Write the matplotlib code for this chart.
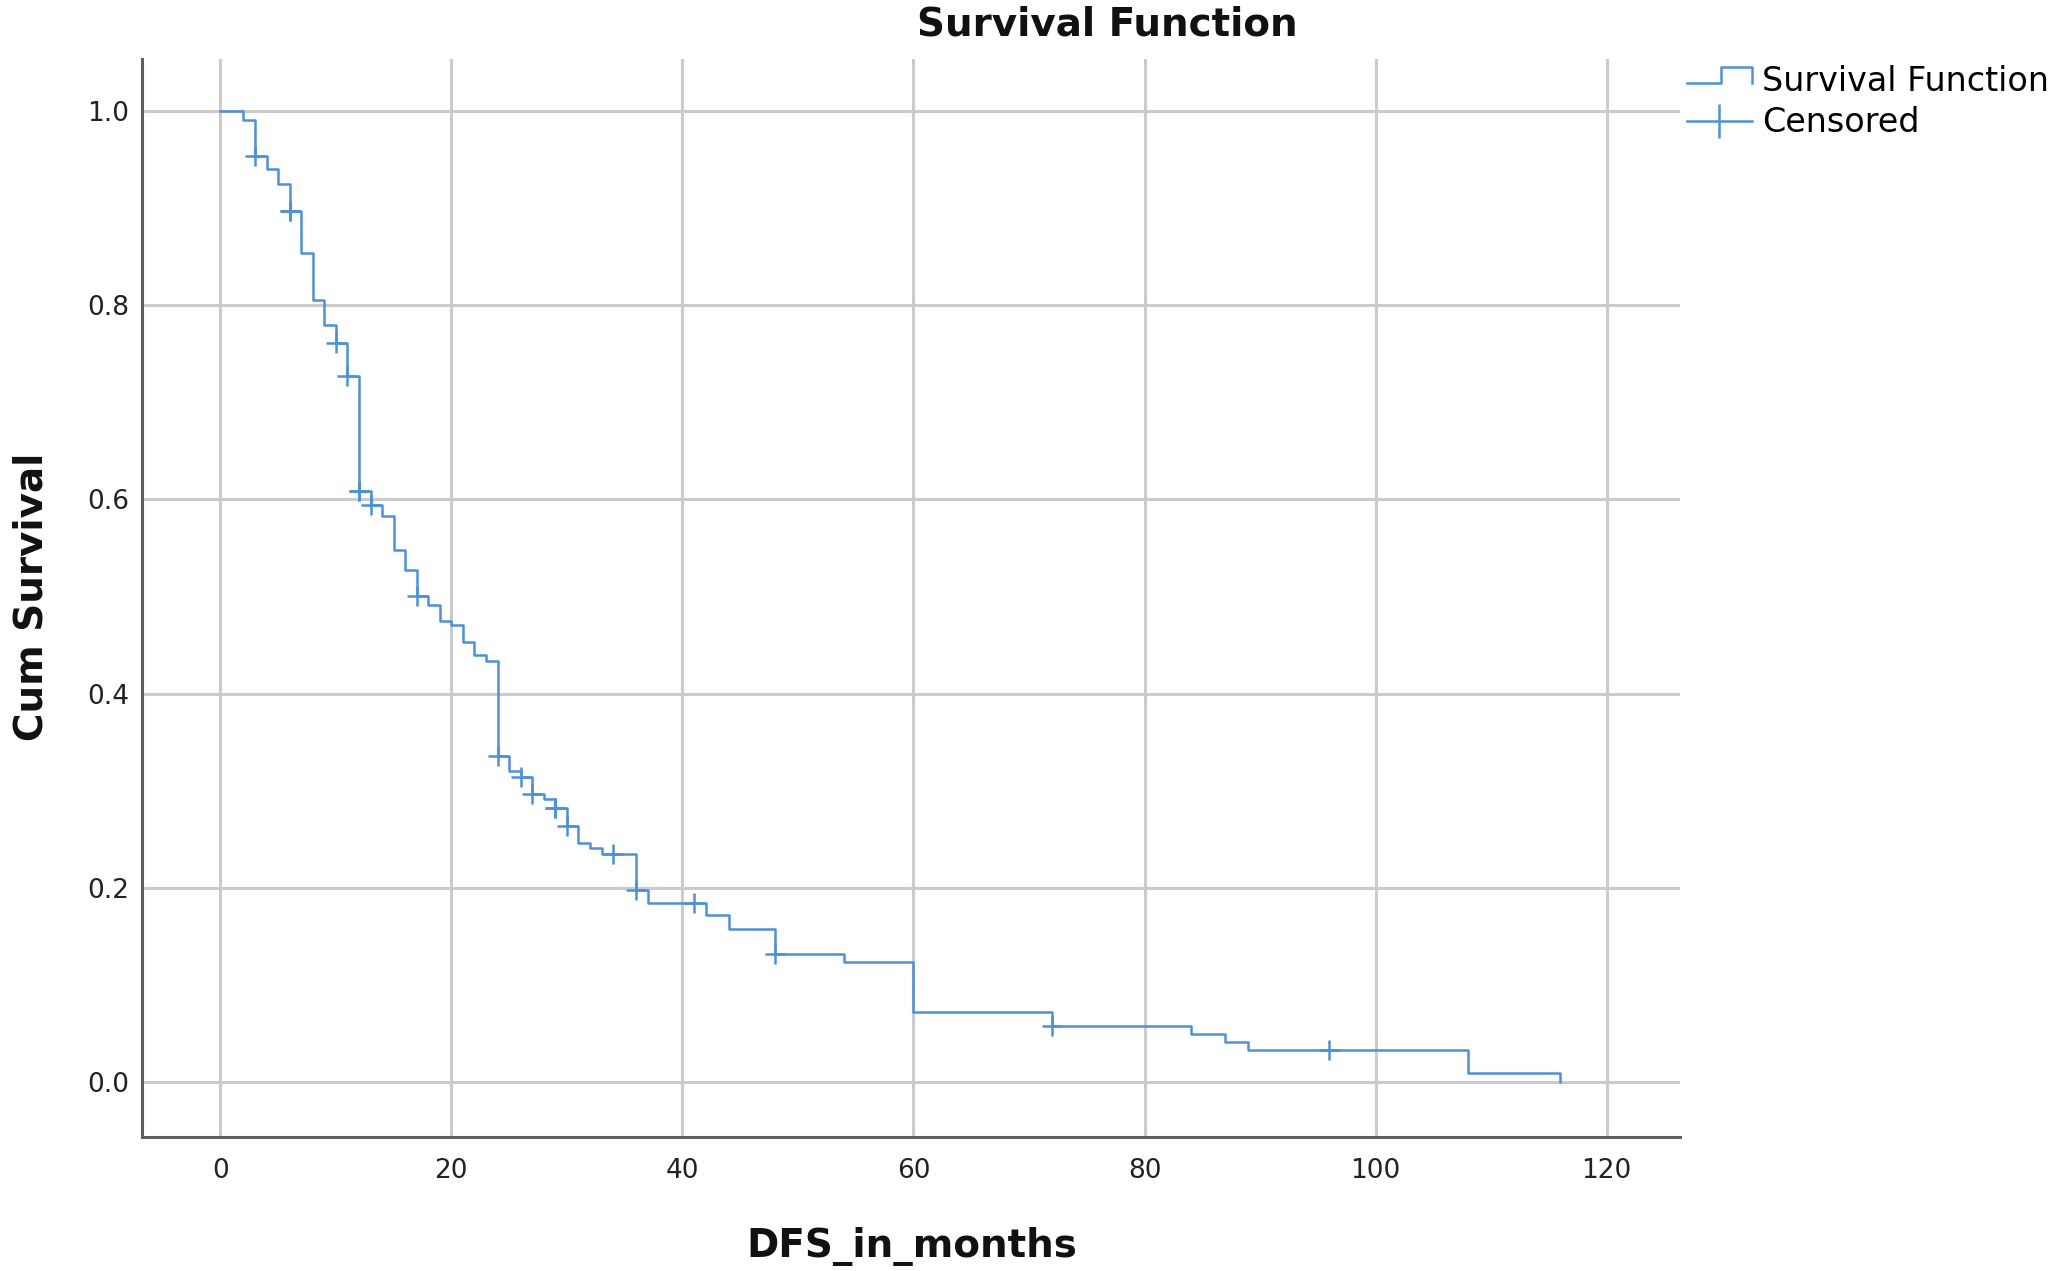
import numpy as np
import matplotlib
matplotlib.use("Agg")
import matplotlib.pyplot as plt
from matplotlib.lines import Line2D
from matplotlib.legend_handler import HandlerBase
from matplotlib.ticker import FormatStrFormatter

# ── Data ──────────────────────────────────────────────────────────────────────
event_times = [0, 2, 3, 4, 5, 6, 7, 8, 9, 10, 11, 12, 13, 14, 15, 16, 17, 18,
               19, 20, 21, 22, 23, 24, 25, 26, 27, 28, 29, 30, 31, 32, 33, 36,
               37, 42, 44, 48, 54, 60, 72, 84, 87, 89, 108, 116]
cum_survival = [1.000, 0.991, 0.953, 0.940, 0.925, 0.897, 0.854, 0.805, 0.779,
                0.761, 0.727, 0.609, 0.594, 0.583, 0.548, 0.527, 0.501, 0.491,
                0.475, 0.471, 0.453, 0.440, 0.434, 0.336, 0.320, 0.314, 0.297,
                0.292, 0.282, 0.264, 0.246, 0.241, 0.235, 0.198, 0.185, 0.172,
                0.158, 0.132, 0.124, 0.0726, 0.0578, 0.0496, 0.0417, 0.0331,
                0.0098, 0.0]
censored_times = [3, 6, 6, 10, 11, 12, 12, 13, 17, 24, 26, 27, 29, 29,
                  30, 34, 36, 41, 48, 72, 96]

x_ticks = [0, 20, 40, 60, 80, 100, 120]
y_ticks = [0.0, 0.2, 0.4, 0.6, 0.8, 1.0]

LINE = "#4a90e2"

# survival value at each censoring time (step function, right-continuous)
t_arr = np.array(event_times)
s_arr = np.array(cum_survival)
idx = np.searchsorted(t_arr, censored_times, side="right") - 1
censored_surv = s_arr[idx]


class StepHandler(HandlerBase):
    """Legend glyph drawn as a small step."""
    def create_artists(self, legend, orig_handle, xdescent, ydescent,
                       width, height, fontsize, trans):
        mid = height / 2 - ydescent
        x = np.array([0, 0.52, 0.52, 1, 1]) * width - xdescent
        y = mid + np.array([-0.15, -0.15, 0.55, 0.55, -0.15]) * height
        ln = Line2D(x, y, color=orig_handle.get_color(), lw=orig_handle.get_linewidth())
        ln.set_transform(trans)
        return [ln]


fig = plt.figure(figsize=(20.56, 12.71), dpi=100)
fig.patch.set_facecolor("white")
ax = fig.add_axes([0.0689, 0.1054, 0.7482, 0.8481])

step_line, = ax.step(event_times, cum_survival, where="post",
                     color=LINE, lw=1.8, zorder=3)
ax.plot(censored_times, censored_surv, linestyle="none", marker="+",
        markersize=14, markeredgewidth=1.8, color=LINE, zorder=4)

ax.set_xlim(-6.81, 126.35)
ax.set_ylim(-0.0564, 1.0532)
ax.set_xticks(x_ticks)
ax.set_yticks(y_ticks)
ax.yaxis.set_major_formatter(FormatStrFormatter("%.1f"))
ax.grid(True, color="#cbcbcb", lw=2.2)
ax.set_axisbelow(True)

for side in ["top", "right"]:
    ax.spines[side].set_visible(False)
for side in ["left", "bottom"]:
    ax.spines[side].set_color("#5f5f5f")
    ax.spines[side].set_linewidth(2.2)

ax.tick_params(axis="both", length=0, labelsize=19, colors="#222222")
ax.tick_params(axis="y", pad=9)
ax.tick_params(axis="x", pad=15)

fig.text(1107 / 2056, 1 - 25 / 1271, "Survival Function", ha="center",
         va="center", fontsize=28, fontweight="bold", color="#111111")
fig.text(912 / 2056, 1 - 1246 / 1271, "DFS_in_months", ha="center",
         va="center", fontsize=28, fontweight="bold", color="#111111")
fig.text(32 / 2056, 1 - 597 / 1271, "Cum Survival", ha="center",
         va="center", rotation=90, fontsize=28, fontweight="bold", color="#111111")

cens_handle = Line2D([], [], color=LINE, lw=1.8, marker="|",
                     markersize=24, markeredgewidth=1.8)
fig.legend([step_line, cens_handle], ["Survival Function", "Censored"],
           loc="upper left", bbox_to_anchor=(1686.7 / 2056, 1 - 65 / 1271),
           frameon=False, borderpad=0, borderaxespad=0, fontsize=24,
           handlelength=1.95, handletextpad=0.31, labelspacing=0.25,
           numpoints=1, handler_map={step_line: StepHandler()})

fig.savefig("out.png", dpi=100)
